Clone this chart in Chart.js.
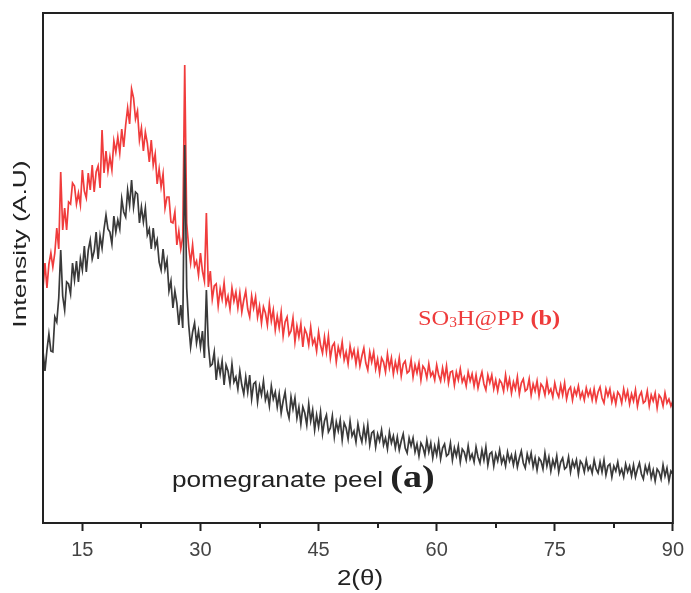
<!DOCTYPE html>
<html>
<head>
<meta charset="utf-8">
<title>XRD pattern</title>
<script src="https://cdn.jsdelivr.net/npm/chart.js@4.4.1/dist/chart.umd.min.js"></script>
<style>
  html, body { margin: 0; padding: 0; background: #fff; }
  #wrap { width: 691px; height: 593px; }
</style>
</head>
<body>
<div id="wrap"><canvas id="xrd" width="691" height="593"></canvas></div>
<script>
// 2theta grid: 10 to 90 deg, every 0.25 deg
var twoTheta = [];
for (var i = 0; i <= 320; i++) twoTheta.push(10 + i * 0.25);

// (a) pomegranate peel (arbitrary units)
var peelIntensity = [
  172,152,173,189,172,171,206,201,225,273,227,213,241,239,229,260,243,262,241,264,
  253,277,251,273,283,264,272,291,264,287,275,294,308,294,291,279,307,291,303,294,
  324,311,306,333,318,343,316,331,329,300,316,301,315,288,294,274,295,276,283,261,
  253,274,254,263,232,242,215,232,220,198,218,195,378,235,199,176,191,200,180,192,
  176,192,165,233,178,157,159,171,143,161,149,162,138,158,152,139,159,141,146,134,
  152,138,129,146,131,148,124,139,141,121,137,128,142,123,130,117,137,124,131,116,
  129,110,122,131,113,105,126,114,125,105,116,99,116,110,98,119,102,113,93,108,
  96,111,89,102,108,91,95,107,86,101,92,103,83,100,95,84,102,87,92,81,
  99,88,81,96,83,98,78,90,92,76,89,82,93,78,85,74,91,80,87,75,
  86,73,82,89,75,70,85,77,85,71,79,67,80,76,68,83,71,80,65,77,
  68,81,64,75,79,67,69,80,63,75,67,77,61,74,71,63,77,64,69,61,
  76,66,60,73,63,76,58,69,71,57,69,62,73,60,66,57,71,62,68,58,
  69,56,65,72,60,55,69,61,70,56,65,53,65,62,54,70,57,66,52,63,
  56,67,51,61,65,54,56,66,51,62,56,63,49,62,59,51,63,53,57,50,
  63,54,50,61,51,63,48,57,59,46,57,52,61,49,54,46,59,51,57,47,
  58,46,54,60,49,44,57,50,58,45,53,42,54,51,44,58,47,55,42,52,
  49
];

// (b) SO3H@PP
var so3hIntensity = [
  235,260,235,259,270,256,270,295,274,351,293,315,293,321,319,340,337,319,330,318,
  353,332,325,350,333,358,331,351,357,335,393,350,372,352,366,353,382,371,386,370,
  394,376,398,415,399,434,425,404,412,383,395,372,391,380,361,383,358,369,339,354,
  336,349,315,326,326,301,300,311,278,292,274,286,458,300,276,260,278,257,262,248,
  270,252,242,310,236,252,224,237,239,217,234,224,240,219,227,214,235,222,231,215,
  230,211,223,232,214,206,227,215,226,206,217,200,216,210,198,219,202,213,193,207,
  195,211,187,201,206,188,192,205,181,197,186,199,176,194,189,178,196,179,184,172,
  191,178,170,186,171,187,165,177,180,161,176,168,181,163,171,159,177,166,173,159,
  172,157,167,175,160,153,171,161,171,154,164,150,165,161,151,169,155,165,149,161,
  152,165,147,159,162,150,152,163,146,158,150,160,143,157,154,145,159,147,151,143,
  158,148,142,155,144,157,140,151,152,138,151,143,154,141,146,137,151,142,149,137,
  148,135,144,151,139,133,148,140,148,134,143,132,143,140,132,148,135,144,130,141,
  134,146,129,140,144,132,134,144,128,139,132,142,127,139,136,128,142,130,134,126,
  140,131,126,138,128,140,124,133,136,123,134,128,137,125,131,123,135,127,133,123,
  134,122,131,136,125,120,134,127,134,121,129,119,131,128,120,134,124,132,119,129,
  122,133,117,127,131,120,122,132,117,128,122,130,115,128,125,117,130,120,124,117,
  122
];

var majorTicks = [15, 30, 45, 60, 75, 90];
var minorTicks = [22.5, 37.5, 52.5, 67.5, 82.5];

var SANS = "'Liberation Sans', Arial, sans-serif";
var SERIF = "'Liberation Serif', 'Times New Roman', serif";

function toPoints(ys) {
  return ys.map(function (y, k) { return { x: twoTheta[k], y: y }; });
}

// stretched text, the original figure's lettering is wide
function wideText(ctx, parts, x, y, sx, rot, align) {
  ctx.save();
  ctx.translate(x, y);
  if (rot) ctx.rotate(rot);
  ctx.scale(sx, 1);
  var total = 0;
  parts.forEach(function (p) { ctx.font = p.font; total += ctx.measureText(p.text).width; });
  var cx = align === 'center' ? -total / 2 : 0;
  ctx.textAlign = 'left';
  ctx.textBaseline = 'alphabetic';
  parts.forEach(function (p) {
    ctx.font = p.font;
    ctx.fillStyle = p.color;
    ctx.fillText(p.text, cx, p.dy || 0);
    cx += ctx.measureText(p.text).width;
  });
  ctx.restore();
}

var decor = {
  id: 'decor',
  afterDraw: function (chart) {
    var ctx = chart.ctx, a = chart.chartArea, xs = chart.scales.x;
    ctx.save();
    // frame
    ctx.strokeStyle = '#222';
    ctx.lineWidth = 2;
    ctx.strokeRect(a.left, a.top, a.right - a.left, a.bottom - a.top);
    // minor ticks
    ctx.beginPath();
    minorTicks.forEach(function (v) {
      var px = Math.round(xs.getPixelForValue(v));
      ctx.moveTo(px, a.bottom);
      ctx.lineTo(px, a.bottom + 5);
    });
    ctx.stroke();
    ctx.restore();

    // axis titles
    wideText(ctx, [{ text: 'Intensity (A.U)', font: '19px ' + SANS, color: '#222' }],
      26, 244, 1.39, -Math.PI / 2, 'center');
    wideText(ctx, [{ text: '2(\u03b8)', font: '22px ' + SANS, color: '#222' }],
      360, 585, 1.18, 0, 'center');

    // sample labels
    wideText(ctx, [
      { text: 'pomegranate peel ', font: '22px ' + SANS, color: '#222' },
      { text: '(a)', font: 'bold 32px ' + SERIF, color: '#222' }
    ], 172, 487, 1.19, 0, 'left');
    wideText(ctx, [
      { text: 'SO', font: '22px ' + SERIF, color: '#ee3b3b' },
      { text: '3', font: '14px ' + SERIF, color: '#ee3b3b', dy: 2 },
      { text: 'H@PP ', font: '22px ' + SERIF, color: '#ee3b3b' },
      { text: '(b)', font: 'bold 22px ' + SERIF, color: '#ee3b3b' }
    ], 418, 325, 1.11, 0, 'left');
  }
};

var data = {
  datasets: [{
    label: 'pomegranate peel (a)',
    data: toPoints(peelIntensity),
    borderColor: '#3a3a3a',
    borderWidth: 1.7,
    pointRadius: 0
  }, {
    label: 'SO3H@PP (b)',
    data: toPoints(so3hIntensity),
    borderColor: '#f03c3c',
    borderWidth: 1.7,
    pointRadius: 0
  }]
};

var options = {
  responsive: false,
  animation: false,
  layout: { padding: { left: 43, right: 13, top: 13, bottom: 0 } },
  plugins: { legend: { display: false }, tooltip: { enabled: false } },
  scales: {
    x: {
      type: 'linear',
      min: 10,
      max: 90,
      afterBuildTicks: function (s) { s.ticks = majorTicks.map(function (v) { return { value: v }; }); },
      afterFit: function (s) { s.height = 70; },
      border: { display: false },
      grid: { drawOnChartArea: false, drawTicks: true, tickLength: 8, tickWidth: 2, tickColor: '#222' },
      ticks: { font: { family: SANS, size: 20 }, color: '#444', padding: 7, maxRotation: 0 }
    },
    y: {
      display: false,
      min: 0,
      max: 510
    }
  }
};

var ctx = document.getElementById('xrd').getContext('2d');
var chart = new Chart(ctx, {
  type: 'line',
  data: data,
  options: options,
  plugins: [decor]
});
</script>
</body>
</html>
